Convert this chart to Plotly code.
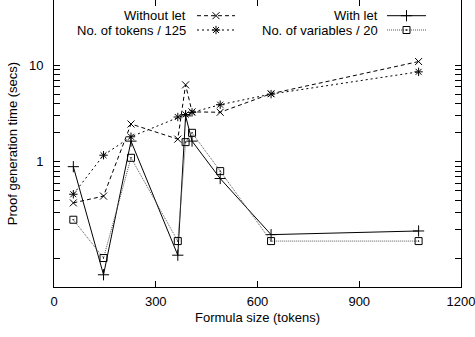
import plotly.graph_objects as go

# ---- data ----
formula_size = [57, 146, 227, 365, 388, 407, 490, 640, 1075]
without_let = [0.374, 0.44, 2.47, 1.72, 6.3, 3.3, 3.27, 5.1, 11.0]
with_let = [0.89, 0.067, 1.64, 0.107, 3.0, 1.64, 0.67, 0.175, 0.191]
tokens_125 = [0.46, 1.17, 1.82, 2.92, 3.1, 3.26, 3.92, 5.05, 8.6]
vars_20 = [0.25, 0.10, 1.10, 0.15, 1.60, 2.00, 0.80, 0.15, 0.15]

x_ticks = [0, 300, 600, 900, 1200]
y_ticks = [0.1, 0.2, 0.3, 0.4, 0.5, 0.6, 0.7, 0.8, 0.9,
           1, 2, 3, 4, 5, 6, 7, 8, 9, 10]

FONT = "Liberation Sans, Arial, sans-serif"
W, H = 475, 337
L, R, T, B = 54, 14, 0, 50

series = [
    ("Without let", without_let, dict(symbol="x-thin-open", size=7), dict(dash="4px,3px", color="black")),
    ("With let", with_let, dict(symbol="cross-thin-open", size=8), dict(dash="solid", color="black")),
    ("No. of tokens / 125", tokens_125, dict(symbol="asterisk-open", size=7), dict(dash="2px,3px", color="black")),
    ("No. of variables / 20", vars_20, dict(symbol="square-open-dot", size=7), dict(dash="1px,1px", color="#555")),
]

fig = go.Figure()
for name, ys, mk, ln in series:
    fig.add_trace(go.Scatter(
        x=formula_size, y=ys, mode="lines+markers", name=name,
        line=dict(width=1, **ln),
        marker=dict(color="black", line=dict(width=1, color="black"), **mk),
        showlegend=False, xaxis="x", yaxis="y"))

# invisible traces to carry the mirrored ticks (top x, right y)
fig.add_trace(go.Scatter(x=[None], y=[None], xaxis="x2", yaxis="y",
                         showlegend=False, hoverinfo="skip"))
fig.add_trace(go.Scatter(x=[None], y=[None], xaxis="x", yaxis="y2",
                         showlegend=False, hoverinfo="skip"))

# ---- custom gnuplot-style legend (text left of sample) ----
leg_rows = [15.7, 30.0]
leg_cols = [(188, 197, 235), (380, 387, 426)]  # text right edge, sample start, sample end
layout_pos = [(0, 0), (0, 1), (1, 0), (1, 1)]  # (row, col) per series
annotations = []
for (name, ys, mk, ln), (r, c) in zip(series, layout_pos):
    yy = leg_rows[r]
    tx, s0, s1 = leg_cols[c]
    fig.add_trace(go.Scatter(x=[s0, s1], y=[yy, yy], mode="lines",
                             line=dict(width=1, **ln), xaxis="x3", yaxis="y3",
                             showlegend=False, hoverinfo="skip"))
    fig.add_trace(go.Scatter(x=[(s0 + s1) / 2], y=[yy], mode="markers",
                             marker=dict(color="black", line=dict(width=1, color="black"), **mk),
                             xaxis="x3", yaxis="y3", showlegend=False, hoverinfo="skip"))
    annotations.append(dict(x=tx, y=yy, xref="x3", yref="y3", text=name, showarrow=False,
                            xanchor="right", yanchor="middle",
                            font=dict(family=FONT, size=13, color="black")))

axis_common = dict(ticks="inside", ticklen=6, tickwidth=1, tickcolor="black",
                   showgrid=False, zeroline=False, automargin=False,
                   ticklabeloverflow="allow",
                   tickfont=dict(family=FONT, size=13, color="black"))

y_common = dict(type="log", range=[-1.301, 1.681], tickvals=y_ticks,
                showline=True, linecolor="black", linewidth=1)

fig.update_layout(
    width=W, height=H,
    margin=dict(l=L, r=R, t=T, b=B, pad=0, autoexpand=False),
    paper_bgcolor="white", plot_bgcolor="white",
    font=dict(family=FONT, size=13, color="black"),
    annotations=annotations,
    xaxis=dict(range=[0, 1200], tickvals=x_ticks, showline=True, linecolor="black",
               linewidth=1, mirror=False, ticklabelstandoff=2,
               title=dict(text="Formula size (tokens)", standoff=5,
                          font=dict(family=FONT, size=13, color="black")),
               **axis_common),
    xaxis2=dict(range=[0, 1200], tickvals=x_ticks, overlaying="x", side="top",
                showline=False, showticklabels=False, anchor="y", **axis_common),
    yaxis=dict(ticktext=[("1" if v == 1 else "10" if v == 10 else "") for v in y_ticks],
               mirror=False, ticklabelstandoff=7,
               title=dict(text="Proof generation time (secs)", standoff=8,
                          font=dict(family=FONT, size=13, color="black")),
               **y_common, **axis_common),
    yaxis2=dict(overlaying="y", side="right", anchor="x", showticklabels=False,
                **y_common, **axis_common),
    xaxis3=dict(range=[L, W - R], domain=[0, 1], visible=False, overlaying="x", anchor="y3",
                fixedrange=True, automargin=False),
    yaxis3=dict(range=[H - B, 0], domain=[0, 1], visible=False, overlaying="y", anchor="x3",
                fixedrange=True, automargin=False),
)

fig.write_html("out.html",
               config={"displayModeBar": False, "staticPlot": True},
               post_script="document.body.style.margin='0';document.body.style.overflow='hidden';")
